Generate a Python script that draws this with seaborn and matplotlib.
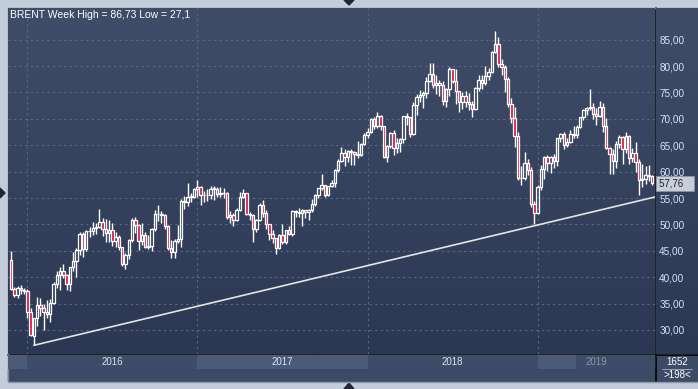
import matplotlib
matplotlib.use("Agg")
import matplotlib.pyplot as plt
from matplotlib.colors import LinearSegmentedColormap
from matplotlib.patches import Rectangle, Polygon
import numpy as np
import seaborn as sns

# ── Weekly Brent candles, Dec 2015 → Sep 2019 ────────────────────────────────
opens = [
    43.2, 37.8, 36.6, 37.9, 37.6, 37.3, 33.5, 28.9, 32.2, 34.7,
    34.1, 33.4, 33.0, 35.1, 38.7, 40.4, 41.2, 40.4, 38.7, 41.9,
    43.1, 45.1, 48.1, 45.4, 48.8, 48.7, 49.3, 49.6, 50.5, 49.2,
    48.4, 49.0, 46.8, 47.6, 45.7, 42.5, 44.3, 47.0, 50.9, 49.9,
    46.8, 48.0, 45.8, 45.9, 49.2, 51.9, 51.9, 51.8, 49.7, 45.6,
    44.8, 46.9, 47.2, 54.5, 54.3, 55.2, 55.2, 56.8, 57.1, 55.5,
    55.5, 55.5, 56.8, 56.7, 55.8, 56.0, 55.9, 51.4, 51.8, 50.8,
    52.8, 55.2, 55.9, 52.0, 51.7, 49.1, 50.8, 53.6, 52.2, 50.0,
    48.2, 47.4, 45.5, 47.9, 46.7, 48.9, 48.1, 52.5, 52.4, 52.1,
    52.7, 52.4, 52.8, 53.8, 55.6, 56.9, 57.5, 55.6, 57.2, 57.8,
    60.4, 62.1, 63.5, 62.7, 63.9, 63.7, 63.4, 63.2, 65.3, 66.9,
    67.6, 69.9, 68.6, 70.5, 68.6, 62.8, 64.8, 67.3, 64.4, 65.5,
    66.2, 70.5, 70.3, 67.1, 72.6, 74.1, 74.6, 74.9, 77.1, 78.5,
    76.4, 76.8, 76.5, 73.4, 75.6, 79.4, 77.1, 75.3, 73.1, 74.3,
    73.2, 72.8, 71.8, 75.8, 77.4, 76.8, 78.1, 78.8, 82.7, 84.2,
    80.4, 79.8, 77.6, 72.8, 70.2, 66.8, 58.8, 58.7, 61.7, 60.3,
    53.8, 52.2, 57.1, 60.5, 62.7, 61.6, 62.8, 62.1, 66.3, 67.1,
    65.1, 65.7, 67.2, 67.0, 68.4, 70.3, 71.6, 72.0, 72.2, 70.9,
    70.6, 72.2, 68.7, 64.5, 63.3, 62.0, 65.2, 66.6, 64.2, 66.7,
    62.5, 63.5, 61.9, 58.5, 58.6, 59.3, 59.1,
]
closes = [
    37.8, 36.6, 37.9, 37.6, 37.3, 33.5, 29.0, 32.2, 34.7, 34.1,
    33.4, 33.0, 35.1, 38.7, 40.4, 41.2, 40.4, 38.7, 41.9, 43.1,
    45.1, 48.1, 45.4, 48.8, 48.7, 49.3, 49.6, 50.5, 49.2, 48.4,
    49.0, 46.8, 47.6, 45.7, 42.5, 44.3, 47.0, 50.9, 49.9, 46.8,
    48.0, 45.8, 45.9, 49.2, 51.9, 51.95, 51.8, 49.7, 45.6, 44.8,
    46.9, 47.2, 54.5, 54.3, 55.2, 55.2, 56.8, 57.1, 55.5, 55.5,
    55.5, 56.8, 56.7, 55.8, 56.0, 55.9, 51.4, 51.8, 50.8, 52.8,
    55.2, 55.9, 52.0, 51.7, 49.1, 50.8, 53.6, 52.2, 50.0, 48.2,
    47.4, 45.5, 47.9, 46.7, 48.9, 48.1, 52.5, 52.4, 52.1, 52.7,
    52.4, 52.8, 53.8, 55.6, 56.9, 57.5, 55.6, 57.2, 57.8, 60.4,
    62.1, 63.5, 62.7, 63.9, 63.7, 63.4, 63.2, 65.3, 66.9, 67.6,
    69.9, 68.6, 70.5, 68.6, 62.8, 64.8, 67.3, 64.4, 65.5, 66.2,
    70.5, 70.3, 67.1, 72.6, 74.1, 74.6, 74.9, 77.1, 78.5, 76.4,
    76.8, 76.5, 73.4, 75.6, 79.4, 77.1, 75.3, 73.1, 74.3, 73.2,
    72.8, 71.8, 75.8, 77.4, 76.8, 78.1, 78.8, 82.7, 84.2, 80.4,
    79.8, 77.6, 72.8, 70.2, 66.8, 58.8, 58.7, 61.7, 60.3, 53.8,
    52.2, 57.1, 60.5, 62.7, 61.6, 62.8, 62.1, 66.3, 67.1, 65.1,
    65.7, 67.2, 67.0, 68.4, 70.3, 71.6, 72.0, 72.2, 70.9, 70.6,
    72.2, 68.7, 64.5, 63.3, 62.0, 65.2, 66.6, 64.2, 66.7, 62.5,
    63.5, 61.9, 58.5, 58.6, 59.3, 59.1, 57.76,
]
highs = [
    44.9, 38.2, 38.3, 38.5, 38.0, 37.8, 34.1, 32.3, 36.3, 36.0,
    35.0, 35.6, 35.8, 39.0, 41.2, 41.9, 42.5, 40.6, 42.0, 44.7,
    45.6, 48.5, 48.5, 48.9, 49.5, 50.5, 50.2, 52.9, 51.3, 51.0,
    50.8, 50.3, 48.5, 48.0, 45.8, 44.6, 47.2, 51.2, 51.4, 50.0,
    50.2, 48.5, 47.9, 49.4, 52.8, 53.7, 52.6, 51.9, 49.9, 47.1,
    47.3, 49.9, 54.9, 55.4, 57.9, 55.9, 56.9, 58.4, 57.2, 56.3,
    56.7, 57.3, 57.2, 57.0, 57.1, 56.9, 56.1, 52.6, 52.1, 53.1,
    56.1, 56.7, 55.9, 52.4, 51.9, 51.0, 54.0, 54.7, 52.8, 50.1,
    48.9, 47.5, 48.2, 50.0, 49.0, 49.7, 52.7, 52.8, 53.2, 52.9,
    52.7, 53.0, 54.9, 55.7, 56.9, 59.5, 57.5, 57.3, 58.5, 60.5,
    62.4, 64.7, 64.3, 64.1, 64.2, 64.0, 65.8, 65.5, 67.3, 68.3,
    70.1, 70.4, 71.3, 70.7, 68.7, 65.1, 67.5, 67.9, 66.3, 66.3,
    70.6, 71.1, 70.4, 73.1, 74.8, 75.5, 75.3, 78.0, 80.5, 80.5,
    78.3, 77.4, 77.1, 75.9, 79.8, 79.5, 79.4, 75.3, 75.1, 75.3,
    74.9, 73.4, 76.0, 78.3, 78.4, 80.1, 79.6, 82.9, 86.73, 85.5,
    81.4, 80.2, 78.0, 73.9, 72.3, 67.5, 61.1, 63.7, 62.4, 60.8,
    54.4, 57.4, 61.3, 62.9, 63.1, 63.0, 63.3, 66.4, 67.4, 67.6,
    66.3, 67.9, 68.7, 68.8, 70.4, 71.9, 72.3, 75.6, 73.0, 72.1,
    73.3, 73.0, 70.2, 64.6, 64.2, 65.8, 67.0, 66.7, 67.5, 67.0,
    64.5, 65.6, 62.3, 61.5, 61.0, 61.2, 59.3,
]
lows = [
    37.5, 36.2, 36.1, 36.9, 36.8, 32.2, 28.8, 27.1, 30.8, 32.6,
    30.0, 32.2, 31.5, 35.0, 37.9, 37.6, 39.8, 37.6, 37.3, 41.2,
    40.1, 44.3, 43.8, 44.9, 47.6, 47.9, 48.1, 49.3, 47.8, 46.6,
    46.6, 45.9, 45.7, 45.2, 42.1, 41.5, 43.4, 46.6, 48.4, 45.2,
    46.1, 45.5, 45.4, 44.9, 48.8, 50.6, 50.2, 49.1, 45.1, 43.6,
    43.6, 46.5, 45.8, 53.0, 53.5, 54.2, 55.0, 55.1, 53.6, 54.3,
    54.5, 54.9, 54.6, 55.2, 55.2, 55.0, 51.1, 50.3, 49.7, 50.6,
    52.6, 55.0, 51.7, 50.8, 46.6, 48.5, 50.6, 51.4, 49.2, 47.0,
    46.5, 44.4, 45.3, 46.3, 46.2, 47.9, 47.8, 51.4, 51.4, 49.7,
    51.2, 50.8, 52.3, 53.5, 55.0, 56.5, 55.2, 55.4, 57.0, 57.1,
    59.9, 61.8, 61.1, 61.8, 61.3, 61.3, 62.5, 62.9, 65.0, 66.4,
    67.4, 68.0, 68.3, 67.9, 62.5, 61.8, 64.4, 63.1, 63.6, 63.8,
    65.5, 68.9, 66.6, 66.9, 70.8, 73.2, 72.1, 73.9, 77.0, 75.8,
    74.7, 74.4, 72.6, 72.3, 74.3, 76.8, 72.9, 71.3, 71.9, 72.3,
    71.7, 70.3, 71.6, 75.3, 75.6, 76.5, 77.4, 78.6, 82.5, 79.8,
    78.4, 75.1, 72.3, 69.2, 64.6, 58.4, 57.5, 58.5, 59.4, 53.3,
    50.0, 51.9, 56.6, 58.6, 60.1, 59.7, 60.6, 61.1, 65.7, 64.3,
    64.6, 65.4, 66.4, 66.4, 68.3, 69.7, 70.8, 71.7, 70.0, 68.9,
    70.4, 67.6, 64.2, 59.5, 59.5, 60.6, 64.4, 61.5, 63.5, 61.5,
    61.8, 60.0, 55.6, 57.0, 57.6, 58.3, 57.5,
]

# first candle of each calendar year (candle index) and its label
year_labels = ["2016", "2017", "2018", "2019"]
year_starts = [5, 57, 109, 161]

# support line: from the Jan-2016 low to the right edge
trend_x = [7, 196.9]
trend_y = [27.1, 55.2]

price_ticks = [30, 35, 40, 45, 50, 55, 60, 65, 70, 75, 80, 85]

# ── Colours ──────────────────────────────────────────────────────────────────
FRAME = "#c3cdd9"
BG_TOP, BG_BOTTOM = "#404d68", "#2c3853"
BAND_LIGHT, BAND_DARK = "#4b5a76", "#3e4c68"
GRID = "#5a6886"
RED = "#e3143f"
TXT = "#d6e3f5"


def comma(v, digits=2):
    return f"{v:.{digits}f}".replace(".", ",")


def short_comma(v):
    return f"{v:.2f}".rstrip("0").rstrip(".").replace(".", ",")


sns.set_theme(style="dark")
plt.rcParams["font.family"] = ["Liberation Sans", "DejaVu Sans"]

W, H = 698, 389
fig = plt.figure(figsize=(W / 100, H / 100), dpi=100, facecolor=FRAME)


def px_box(x0, y0, x1, y1):
    """figure-fraction rect from a pixel box (top-left origin)"""
    return [x0 / W, (H - y1) / H, (x1 - x0) / W, (y1 - y0) / H]


grad = LinearSegmentedColormap.from_list("bg", [BG_TOP, BG_BOTTOM])
ramp = np.linspace(0, 1, 256).reshape(-1, 1)

# ── Window chrome (pixel coords) ─────────────────────────────────────────────
bg = fig.add_axes([0, 0, 1, 1], zorder=0)
bg.set_xlim(0, W)
bg.set_ylim(H, 0)
bg.axis("off")
bg.add_patch(Rectangle((8, 369), 690, 12, color="#3d4a66"))
bg.add_patch(Rectangle((656, 355), 42, 26, color="#3d4a66"))
bg.plot([662, 692], [369, 369], color="#aab4c4", lw=0.6)
bg.text(677, 362, "1652", color="white", fontsize=7, ha="center", va="center")
bg.text(677, 375.5, ">198<", color="white", fontsize=7, ha="center", va="center")
bg.plot([655.5, 655.5], [8, 381], color="black", lw=1.2)
bg.plot([8, 698], [354.5, 354.5], color="black", lw=1.2)
bg.plot([7.5, 7.5], [8, 381], color="#7a869a", lw=1)
bg.plot([8, 698], [7.5, 7.5], color="#7a869a", lw=1)
bg.plot([8, 698], [381.5, 381.5], color="#8e99ab", lw=1)
for tri in ([(344, 0), (354, 0), (349, 5)],
            [(344, 389), (354, 389), (349, 383)],
            [(0, 188), (0, 198), (5, 193)]):
    bg.add_patch(Polygon(tri, closed=True, color="#1f2535"))

# right price panel background
ax_r = fig.add_axes(px_box(656, 8, 698, 354), zorder=1)
ax_r.imshow(ramp, cmap=grad, aspect="auto", extent=[0, 1, 0, 1])
ax_r.axis("off")

# ── Main chart ───────────────────────────────────────────────────────────────
ax = fig.add_axes(px_box(8, 8, 655, 354), zorder=2)
ax.imshow(ramp, cmap=grad, aspect="auto", extent=[0, 1, 0, 1],
          transform=ax.transAxes, zorder=0)
ax.set_facecolor("none")

n = len(closes)
x = np.arange(n)
o = np.array(opens)
c = np.array(closes)
hi = np.array(highs)
lo = np.array(lows)
top = np.maximum(o, c)
bot = np.minimum(o, c)
up = c >= o

for yv in price_ticks:
    ax.axhline(yv, color=GRID, lw=0.8, ls=(0, (2, 3)), zorder=1)
for xs in year_starts:
    ax.axvline(xs, color=GRID, lw=0.8, ls=(0, (2, 3)), zorder=1)

ax.vlines(x, top, hi, color="white", lw=1.0, zorder=3)
ax.vlines(x, lo, bot, color="white", lw=1.0, zorder=3)
height = np.maximum(top - bot, 0.12)
ax.bar(x[up], height[up], bottom=bot[up], width=0.75, facecolor="none",
       edgecolor="white", linewidth=0.9, zorder=4)
ax.bar(x[~up], height[~up], bottom=bot[~up], width=0.75, facecolor=RED,
       edgecolor="white", linewidth=0.9, zorder=4)

sns.lineplot(x=trend_x, y=trend_y, color="#e4e4e4", lw=1.2, ax=ax, zorder=5)

ax.set_xlim(-0.92, 196.9)
ax.set_ylim(25.45, 91.0)
ax.set_xticks([])
ax.set_yticks(price_ticks)
ax.yaxis.tick_right()
ax.yaxis.set_major_formatter(matplotlib.ticker.FuncFormatter(lambda v, p: comma(v)))
ax.tick_params(axis="y", length=0, pad=3, labelsize=7.2, labelcolor=TXT)
ax.grid(False)
for sp in ax.spines.values():
    sp.set_visible(False)
ax.set_xlabel("")
ax.set_ylabel("")

ax.text(2 / 647, 1 - 2 / 346,
        f"BRENT Week High = {short_comma(max(highs))} Low = {short_comma(min(lows))}",
        transform=ax.transAxes, ha="left", va="top", color="white", fontsize=7.5,
        zorder=6)

ax.text(1.006, closes[-1], comma(closes[-1]) + "   ",
        transform=ax.get_yaxis_transform(),
        ha="left", va="center", fontsize=7, color="#1b2232", clip_on=False,
        bbox=dict(boxstyle="square,pad=0.3", fc="#c7ced8", ec="#8a94a5", lw=0.6),
        zorder=7)

# ── Year band under the chart ────────────────────────────────────────────────
ax_t = fig.add_axes(px_box(8, 355, 655, 369), zorder=1, sharex=ax)
ax_t.set_ylim(0, 1)
ax_t.set_facecolor(BAND_DARK)
edges = [-0.92] + year_starts + [196.9]
for i in range(len(edges) - 1):
    col = BAND_LIGHT if i % 2 == 0 else BAND_DARK
    ax_t.axvspan(edges[i], edges[i + 1], color=col, lw=0)
ax_t.axvspan(year_starts[-1], 172.8, color=BAND_LIGHT, lw=0)
ax_t.axvspan(172.8, 196.9, color=BAND_DARK, lw=0)
for i, lab in enumerate(year_labels):
    mid = (edges[i + 1] + edges[i + 2]) / 2
    ax_t.text(mid, 0.5, lab, ha="center", va="center", fontsize=7,
              color="#8b97ad" if lab == "2019" else TXT)
ax_t.set_xticks([])
ax_t.set_yticks([])
for sp in ax_t.spines.values():
    sp.set_visible(False)

fig.savefig("out.png", dpi=100, facecolor=FRAME)
